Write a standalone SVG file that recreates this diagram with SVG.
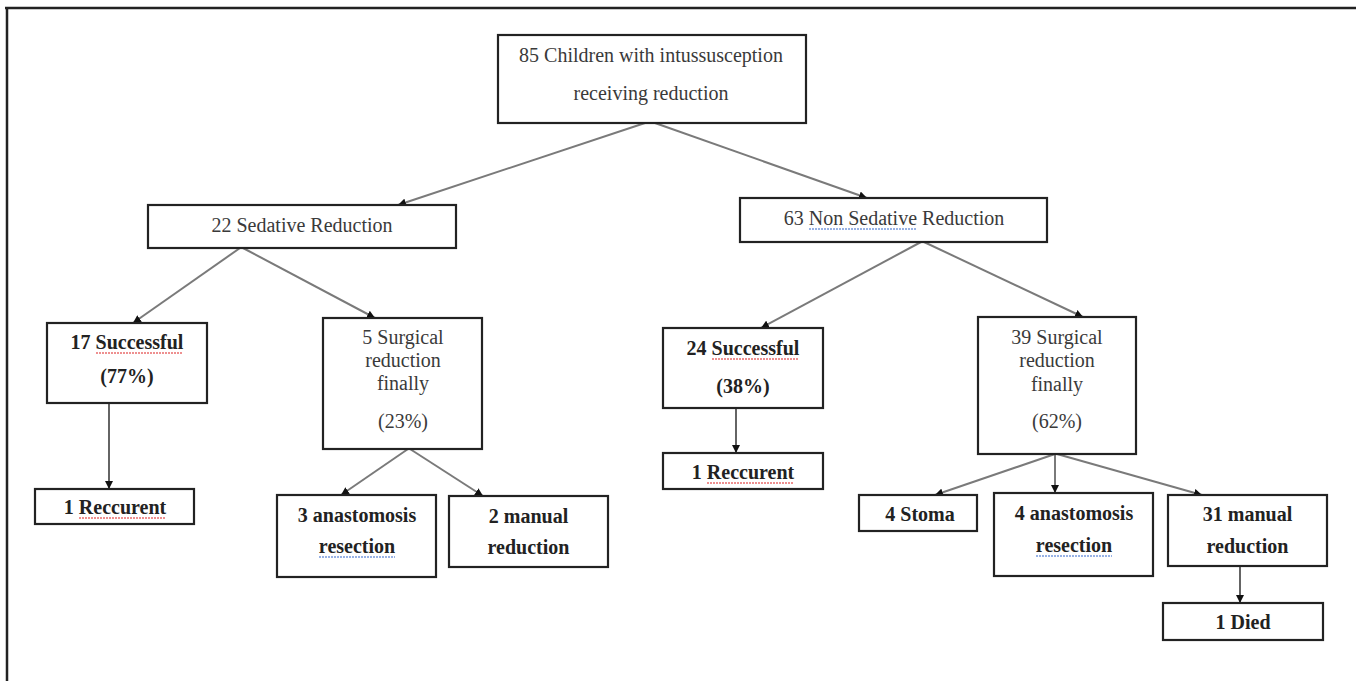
<svg xmlns="http://www.w3.org/2000/svg" width="1356" height="681" viewBox="0 0 1356 681">
<defs>
<style>
.box{fill:#fff;stroke:#222;stroke-width:2.2}
.t{font-family:"Liberation Serif","Times New Roman",serif;font-size:20px;fill:#3a3a3a;text-anchor:middle}
.b{font-family:"Liberation Serif","Times New Roman",serif;font-size:20px;font-weight:bold;fill:#222;text-anchor:middle}
.g{stroke:#7a7a7a;stroke-width:2;fill:none}
.k{stroke:#111;stroke-width:1.3;fill:none}
.sr{stroke:#d22;stroke-width:1.2;stroke-dasharray:2 1;fill:none}
.sb{stroke:#36c;stroke-width:1.2;stroke-dasharray:2 1;fill:none}
</style>
<marker id="ah" viewBox="0 0 8 8" markerWidth="8" markerHeight="8" refX="8" refY="4" orient="auto" markerUnits="userSpaceOnUse">
<path d="M0,0 L8,4 L0,8 z" fill="#111"/>
</marker>
</defs>
<rect width="1356" height="681" fill="#fff"/>
<g id="frame" stroke="#222" stroke-width="2.5" fill="none">
<line x1="5" y1="8" x2="1356" y2="8"/>
<line x1="7" y1="8" x2="7" y2="681"/>
</g>
<g id="connectors">
<line class="g" x1="645" y1="123" x2="398" y2="205" marker-end="url(#ah)"/>
<line class="g" x1="655" y1="123" x2="867" y2="198" marker-end="url(#ah)"/>
<line class="g" x1="240" y1="248" x2="133" y2="323" marker-end="url(#ah)"/>
<line class="g" x1="243" y1="248" x2="375" y2="318" marker-end="url(#ah)"/>
<line class="k" x1="109" y1="403" x2="109" y2="489" marker-end="url(#ah)"/>
<line class="g" x1="408" y1="449" x2="341" y2="495" marker-end="url(#ah)"/>
<line class="g" x1="410" y1="449" x2="483" y2="496" marker-end="url(#ah)"/>
<line class="g" x1="921" y1="242" x2="761" y2="328" marker-end="url(#ah)"/>
<line class="g" x1="924" y1="242" x2="1083" y2="317" marker-end="url(#ah)"/>
<line class="k" x1="736" y1="408" x2="736" y2="453" marker-end="url(#ah)"/>
<line class="g" x1="1055" y1="454" x2="935" y2="495" marker-end="url(#ah)"/>
<line class="g" x1="1055" y1="454" x2="1055" y2="493" marker-end="url(#ah)"/>
<line class="g" x1="1057" y1="454" x2="1202" y2="495" marker-end="url(#ah)"/>
<line class="k" x1="1240" y1="566" x2="1240" y2="603" marker-end="url(#ah)"/>
</g>
<g id="n-root">
<rect class="box" x="498" y="35" width="308" height="88"/>
<text class="t" x="651" y="62">85 Children with intussusception</text>
<text class="t" x="651" y="100">receiving reduction</text>
</g>
<g id="n-sed">
<rect class="box" x="148" y="205" width="308" height="43"/>
<text class="t" x="302" y="232">22 Sedative Reduction</text>
</g>
<g id="n-nonsed">
<rect class="box" x="740" y="198" width="307" height="44"/>
<text class="t" x="894" y="225">63 Non Sedative Reduction</text>
<line class="sb" x1="809" y1="229" x2="917" y2="229"/>
</g>
<g id="n-succ17">
<rect class="box" x="47" y="323" width="160" height="80"/>
<text class="b" x="127" y="349">17 Successful</text>
<line class="sr" x1="96" y1="353" x2="183" y2="353"/>
<text class="b" x="127" y="383">(77%)</text>
</g>
<g id="n-surg5">
<rect class="box" x="323" y="318" width="159" height="131"/>
<text class="t" x="403" y="344">5 Surgical</text>
<text class="t" x="403" y="367">reduction</text>
<text class="t" x="403" y="390">finally</text>
<text class="t" x="403" y="428">(23%)</text>
</g>
<g id="n-rec1">
<rect class="box" x="35" y="489" width="159" height="35"/>
<text class="b" x="115" y="514">1 Reccurent</text>
<line class="sr" x1="79" y1="518" x2="166" y2="518"/>
</g>
<g id="n-anas3">
<rect class="box" x="277" y="495" width="159" height="82"/>
<text class="b" x="357" y="522">3 anastomosis</text>
<text class="b" x="357" y="553">resection</text>
<line class="sb" x1="319" y1="557" x2="395" y2="557"/>
</g>
<g id="n-man2">
<rect class="box" x="449" y="496" width="159" height="71"/>
<text class="b" x="528.5" y="523">2 manual</text>
<text class="b" x="528.5" y="554">reduction</text>
</g>
<g id="n-succ24">
<rect class="box" x="663" y="328" width="160" height="80"/>
<text class="b" x="743" y="355">24 Successful</text>
<line class="sr" x1="712" y1="359" x2="799" y2="359"/>
<text class="b" x="743" y="393">(38%)</text>
</g>
<g id="n-rec2">
<rect class="box" x="663" y="453" width="160" height="36"/>
<text class="b" x="743" y="479">1 Reccurent</text>
<line class="sr" x1="707" y1="483" x2="794" y2="483"/>
</g>
<g id="n-surg39">
<rect class="box" x="978" y="317" width="158" height="137"/>
<text class="t" x="1057" y="344">39 Surgical</text>
<text class="t" x="1057" y="367">reduction</text>
<text class="t" x="1057" y="391">finally</text>
<text class="t" x="1057" y="428">(62%)</text>
</g>
<g id="n-stoma">
<rect class="box" x="859" y="495" width="118" height="36"/>
<text class="b" x="920" y="521">4 Stoma</text>
</g>
<g id="n-anas4">
<rect class="box" x="994" y="493" width="159" height="83"/>
<text class="b" x="1074" y="520">4 anastomosis</text>
<text class="b" x="1074" y="552">resection</text>
<line class="sb" x1="1036" y1="556" x2="1112" y2="556"/>
</g>
<g id="n-man31">
<rect class="box" x="1168" y="495" width="159" height="71"/>
<text class="b" x="1247.5" y="521">31 manual</text>
<text class="b" x="1247.5" y="553">reduction</text>
</g>
<g id="n-died">
<rect class="box" x="1163" y="603" width="160" height="37"/>
<text class="b" x="1243" y="629">1 Died</text>
</g>
</svg>
